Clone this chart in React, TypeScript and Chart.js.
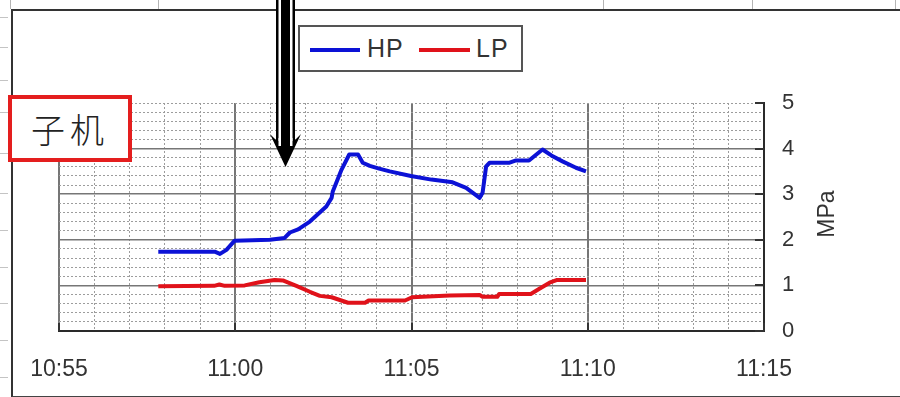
import React, { useEffect, useRef } from "react";
import { Chart, registerables } from "chart.js";

Chart.register(...registerables);

const hpTimes = [
  "10:57:49", "10:59:25", "10:59:34", "10:59:45", "10:59:59", "11:00:59", "11:01:24",
  "11:01:33", "11:01:47", "11:02:07", "11:02:35", "11:02:44", "11:02:46", "11:03:01",
  "11:03:14", "11:03:29", "11:03:37", "11:03:49", "11:04:05", "11:04:23", "11:04:59",
  "11:05:34", "11:06:10", "11:06:33", "11:06:56", "11:07:01", "11:07:07", "11:07:13",
  "11:07:47", "11:07:58", "11:08:20", "11:08:43", "11:08:58", "11:09:17", "11:09:40",
  "11:09:57",
];
const hpValues = [
  1.74, 1.74, 1.69, 1.78, 1.98, 2.0, 2.04,
  2.16, 2.23, 2.4, 2.73, 2.92, 3.06, 3.54,
  3.87, 3.87, 3.69, 3.62, 3.56, 3.5, 3.4,
  3.32, 3.26, 3.14, 2.92, 3.03, 3.61, 3.69,
  3.69, 3.74, 3.74, 3.98, 3.85, 3.72, 3.58,
  3.5,
];

const lpTimes = [
  "10:57:49", "10:59:24", "10:59:33", "10:59:42", "11:00:16", "11:00:41", "11:01:07",
  "11:01:21", "11:01:44", "11:02:07", "11:02:24", "11:02:44", "11:03:12", "11:03:41",
  "11:03:47", "11:04:49", "11:05:01", "11:06:05", "11:06:56", "11:07:01", "11:07:26",
  "11:07:29", "11:08:23", "11:08:37", "11:08:55", "11:09:08", "11:09:57",
];
const lpValues = [
  0.98, 0.99, 1.02, 0.99, 1.0, 1.07, 1.12,
  1.11, 0.99, 0.86, 0.77, 0.74, 0.62, 0.62,
  0.67, 0.67, 0.74, 0.78, 0.79, 0.75, 0.75,
  0.81, 0.81, 0.92, 1.06, 1.12, 1.12,
];

const xTickLabels = ["10:55", "11:00", "11:05", "11:10", "11:15"];
const yTickLabels = ["0", "1", "2", "3", "4", "5"];
const seriesNames = ["HP", "LP"];
const panelLabel = "子机";
const yAxisTitle = "MPa";

const FONT = "'Liberation Sans', Arial, sans-serif";
const BLUE = "#0c12d6";
const RED = "#e0121a";

function toMin(t: string): number {
  const p = t.split(":").map(Number);
  return p[0] * 60 + p[1] + (p[2] || 0) / 60;
}
function fmt(v: number): string {
  const h = Math.floor(v / 60);
  const m = Math.round(v - h * 60);
  return `${h}:${String(m).padStart(2, "0")}`;
}
const isMajorX = (v: number) => Math.abs(v / 5 - Math.round(v / 5)) < 1e-6;
const isInt = (v: number) => Math.abs(v - Math.round(v)) < 1e-6;

const innerTicks = {
  id: "innerTicks",
  afterDraw(chart: any) {
    const { ctx, scales } = chart;
    const x = scales.x;
    const y = scales.y;
    ctx.save();
    ctx.strokeStyle = "#333";
    ctx.lineWidth = 2;
    yTickLabels.forEach((l) => {
      const py = Math.round(y.getPixelForValue(Number(l)));
      ctx.beginPath();
      ctx.moveTo(x.right - 9, py);
      ctx.lineTo(x.right, py);
      ctx.stroke();
    });
    xTickLabels.forEach((l) => {
      const px = Math.round(x.getPixelForValue(toMin(l)));
      ctx.beginPath();
      ctx.moveTo(px, y.bottom - 8);
      ctx.lineTo(px, y.bottom);
      ctx.stroke();
    });
    ctx.restore();
  },
};

export default function App() {
  const ref = useRef<HTMLCanvasElement | null>(null);

  useEffect(() => {
    if (!ref.current) return;
    const xMin = toMin(xTickLabels[0]);
    const xMax = toMin(xTickLabels[xTickLabels.length - 1]);
    const chart = new Chart(ref.current, {
      type: "line",
      data: {
        datasets: [
          {
            label: seriesNames[0],
            data: hpTimes.map((t, i) => ({ x: toMin(t), y: hpValues[i] })),
            borderColor: BLUE,
            backgroundColor: BLUE,
            borderWidth: 4,
            pointRadius: 0,
            tension: 0,
            borderJoinStyle: "round",
          },
          {
            label: seriesNames[1],
            data: lpTimes.map((t, i) => ({ x: toMin(t), y: lpValues[i] })),
            borderColor: RED,
            backgroundColor: RED,
            borderWidth: 4,
            pointRadius: 0,
            tension: 0,
            borderJoinStyle: "round",
          },
        ],
      },
      options: {
        responsive: false,
        animation: false,
        events: [],
        layout: { padding: { left: 59, top: 103, right: 0, bottom: 0 } },
        plugins: { legend: { display: false }, tooltip: { enabled: false } },
        scales: {
          x: {
            type: "linear",
            position: "bottom",
            min: xMin,
            max: xMax,
            afterFit: (s: any) => {
              s.height = 66;
            },
            ticks: {
              stepSize: 1,
              autoSkip: false,
              maxRotation: 0,
              minRotation: 0,
              padding: 25,
              color: "#333",
              font: { family: FONT, size: 23 },
              callback: (v: any) => (isMajorX(Number(v)) ? fmt(Number(v)) : ""),
            },
            grid: {
              drawTicks: false,
              color: (c: any) => (c.tick && isMajorX(c.tick.value) ? "#767676" : "#9c9c9c"),
              lineWidth: (c: any) => (c.tick && isMajorX(c.tick.value) ? 2 : 1),
            },
            border: {
              display: true,
              color: "#2a2a2a",
              width: 2,
              dash: (c: any) => (c.tick && !isMajorX(c.tick.value) ? [2, 2] : []),
            },
          },
          y: {
            type: "linear",
            position: "right",
            min: 0,
            max: 5,
            afterFit: (s: any) => {
              s.width = 136;
            },
            ticks: {
              stepSize: 0.2,
              autoSkip: false,
              padding: 18,
              color: "#333",
              font: { family: FONT, size: 22 },
              callback: (v: any) => (isInt(Number(v)) ? String(Math.round(Number(v))) : ""),
            },
            grid: {
              drawTicks: false,
              color: (c: any) =>
                c.tick && isInt(c.tick.value) && c.tick.value < 4.5 ? "#767676" : "#9c9c9c",
              lineWidth: (c: any) =>
                c.tick && isInt(c.tick.value) && c.tick.value < 4.5 ? 1.5 : 1,
            },
            border: {
              display: true,
              color: "#2a2a2a",
              width: 2,
              dash: (c: any) =>
                c.tick && !(isInt(c.tick.value) && c.tick.value < 4.5) ? [2, 2] : [],
            },
          },
        },
      },
      plugins: [innerTicks],
    } as any);
    return () => chart.destroy();
  }, []);

  const rowMarks = [17, 47, 80, 112, 153, 193, 230, 267, 303, 340, 377];
  const colMarks = [10, 158, 603, 752, 895];

  return (
    <div
      style={{
        position: "fixed",
        left: 0,
        top: 0,
        width: 900,
        height: 397,
        background: "#fff",
        overflow: "hidden",
        fontFamily: FONT,
      }}
    >
      <canvas ref={ref} width={900} height={397} style={{ position: "absolute", left: 0, top: 0 }} />

      {rowMarks.map((y) => (
        <div key={"r" + y} style={{ position: "absolute", left: 0, top: y, width: 8, height: 1, background: "#c4c4c4" }} />
      ))}
      {colMarks.map((x) => (
        <div key={"c" + x} style={{ position: "absolute", left: x, top: 0, width: 1, height: 9, background: "#b4b4b4" }} />
      ))}

      <div
        style={{
          position: "absolute",
          left: 11,
          top: 9,
          width: 900,
          height: 385,
          borderTop: "2px solid #333",
          borderLeft: "2px solid #333",
          borderBottom: "2px solid #444",
        }}
      />

      <div
        style={{
          position: "absolute",
          left: 298,
          top: 25,
          width: 221,
          height: 43,
          border: "2px solid #555",
          background: "#fff",
        }}
      >
        <div style={{ position: "absolute", left: 10, top: 21, width: 50, height: 4, background: BLUE }} />
        <div style={{ position: "absolute", left: 67, top: 6, fontSize: 25, lineHeight: "30px", color: "#333", letterSpacing: 1 }}>
          {seriesNames[0]}
        </div>
        <div style={{ position: "absolute", left: 119, top: 21, width: 51, height: 4, background: RED }} />
        <div style={{ position: "absolute", left: 176, top: 6, fontSize: 25, lineHeight: "30px", color: "#333", letterSpacing: 1 }}>
          {seriesNames[1]}
        </div>
      </div>

      <div
        style={{
          position: "absolute",
          left: 826,
          top: 214,
          transform: "translate(-50%, -50%) rotate(-90deg)",
          fontSize: 23,
          lineHeight: "26px",
          color: "#333",
          whiteSpace: "nowrap",
        }}
      >
        {yAxisTitle}
      </div>

      <div
        style={{
          position: "absolute",
          left: 8,
          top: 95,
          width: 116,
          height: 59,
          border: "4px solid #e41e1e",
          background: "#fff",
          display: "flex",
          alignItems: "center",
          justifyContent: "center",
          fontFamily: "'Noto Sans CJK SC', sans-serif",
          fontWeight: 300,
          fontSize: 34,
          letterSpacing: 5,
          color: "#222",
        }}
      >
        {panelLabel}
      </div>

      <svg width={900} height={397} style={{ position: "absolute", left: 0, top: 0, pointerEvents: "none" }}>
        <rect x={276} y={0} width={19} height={142} fill="#fff" />
        <rect x={276} y={0} width={2.5} height={142} fill="#000" />
        <rect x={281} y={0} width={9} height={150} fill="#000" />
        <rect x={292.5} y={0} width={2.5} height={142} fill="#000" />
        <polygon points="277,141 270,134 285.5,167 301,134 294,141" fill="#000" />
        <rect x={278.5} y={138} width={2.5} height={8} fill="#fff" />
        <rect x={290} y={138} width={2.5} height={8} fill="#fff" />
      </svg>
    </div>
  );
}
